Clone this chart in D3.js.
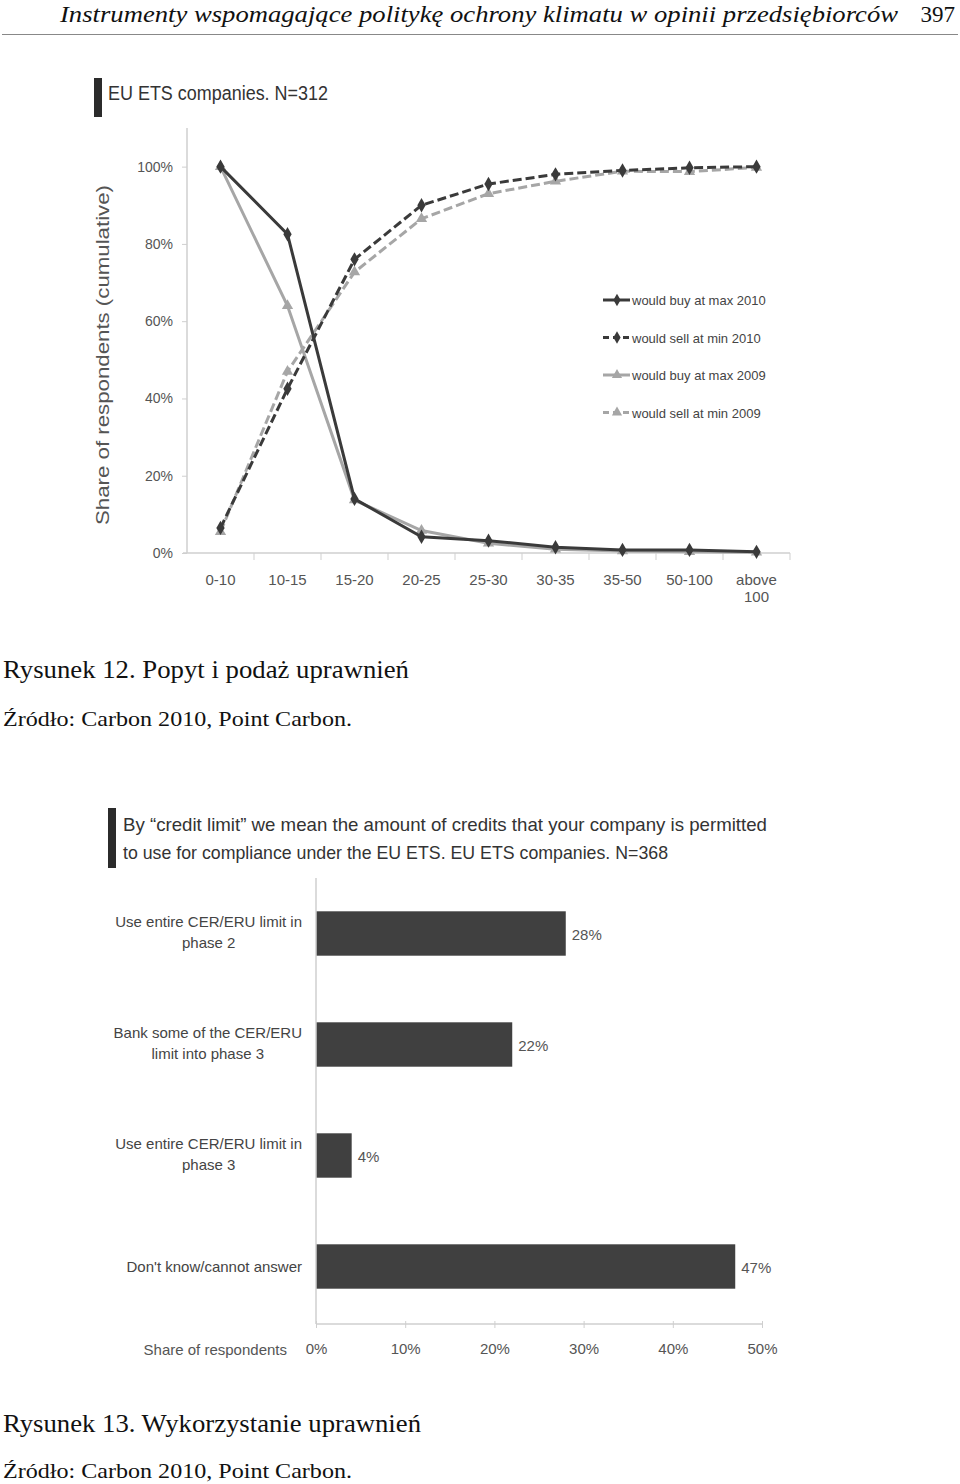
<!DOCTYPE html>
<html><head><meta charset="utf-8">
<script src="https://cdn.jsdelivr.net/npm/d3@7"></script>
<style>body{margin:0;background:#fff}svg{display:block}</style>
</head><body><svg id="c" width="960" height="1484"></svg>
<script>
// ---------- DATA ----------
const categories = ["0-10","10-15","15-20","20-25","25-30","30-35","35-50","50-100","above 100"];
const buyMax2010  = [100, 82.5, 14, 4.2, 3.2, 1.5, 0.8, 0.8, 0.3];
const sellMin2010 = [6.5, 42.5, 76, 90, 95.5, 98, 99, 99.7, 100];
const buyMax2009  = [100, 64, 13.7, 5.8, 2.5, 1, 0.5, 0.3, 0.2];
const sellMin2009 = [5.5, 47, 72.7, 86.5, 93, 96.2, 98.8, 98.7, 99.8];
const yTicks1 = [0, 20, 40, 60, 80, 100];
const seriesNames = ["would buy at max 2010","would sell at min 2010","would buy at max 2009","would sell at min 2009"];

const barCategories = [["Use entire CER/ERU limit in","phase 2"],["Bank some of the CER/ERU","limit into phase 3"],["Use entire CER/ERU limit in","phase 3"],["Don't know/cannot answer"]];
const barValues = [28, 22, 4, 47];
const xTicks2 = [0, 10, 20, 30, 40, 50];

// ---------- SETUP ----------
const svg = d3.select("#c");
svg.append("rect").attr("width",960).attr("height",1484).attr("fill","#fff");
const SANS = "'Liberation Sans', Arial, sans-serif";
// pick an installed Times-like serif
function hasFont(f){
  const c = document.createElement("canvas").getContext("2d");
  const s = "Rysunek 12. Popyt i podaż uprawnień WMmwil";
  c.font = "40px monospace"; const a = c.measureText(s).width;
  c.font = `40px '${f}', monospace`; const b = c.measureText(s).width;
  return Math.abs(a-b) > 0.5;
}
const serifName = ["Liberation Serif","Times New Roman","Tinos","Nimbus Roman","Times"].find(hasFont);
const SERIF = serifName ? `'${serifName}', serif` : "serif";
const AXIS = "#cfcfcf", TXT = "#555";

// header
svg.append("text").attr("x",60).attr("y",22).attr("font-family",SERIF).attr("font-style","italic")
  .attr("font-size",23).attr("textLength",838).attr("lengthAdjust","spacingAndGlyphs").attr("fill","#111")
  .text("Instrumenty wspomagające politykę ochrony klimatu w opinii przedsiębiorców");
svg.append("text").attr("x",955).attr("y",22).attr("text-anchor","end").attr("font-family",SERIF)
  .attr("font-size",23).attr("fill","#111").text("397");
svg.append("line").attr("x1",2).attr("x2",958).attr("y1",34.5).attr("y2",34.5).attr("stroke","#888").attr("stroke-width",1.2);

// ---------- CHART 1 ----------
svg.append("rect").attr("x",94).attr("y",78).attr("width",8).attr("height",39).attr("fill","#2b2b2b");
svg.append("text").attr("x",108).attr("y",100).attr("font-family",SANS).attr("font-size",20)
  .attr("textLength",220).attr("lengthAdjust","spacingAndGlyphs").attr("fill","#333").text("EU ETS companies. N=312");

const x1 = d3.scaleBand().domain(categories).range([187, 790]);
const y1 = d3.scaleLinear().domain([0, 110]).range([553, 128]);
const cx = c => x1(c) + x1.bandwidth()/2;

const gy = svg.append("g").attr("transform","translate(187,0)")
  .call(d3.axisLeft(y1).tickValues(yTicks1).tickSize(5).tickPadding(9).tickFormat(d => d + "%"));
gy.select(".domain").attr("stroke",AXIS).attr("stroke-width",1.5).attr("d","M0,128V553");
gy.selectAll(".tick line").attr("stroke",AXIS);
gy.selectAll(".tick text").attr("font-family",SANS).attr("font-size",14).attr("fill",TXT);

const gx = svg.append("g").attr("transform","translate(0,553)")
  .call(d3.axisBottom(x1).tickSize(0).tickPadding(21));
gx.select(".domain").attr("stroke",AXIS).attr("stroke-width",1.5).attr("d","M183,0H790");
gx.selectAll(".tick text").attr("font-family",SANS).attr("font-size",15).attr("fill",TXT)
  .each(function(d){
    const parts = d.split(" ");
    if (parts.length > 1) {
      const t = d3.select(this); t.text(null);
      parts.forEach((p,i) => t.append("tspan").attr("x",0).attr("dy", i===0 ? "0.71em" : "1.15em").text(p));
    }
  });
svg.append("g").selectAll("line").data(categories).join("line")
  .attr("x1", c => x1(c) + x1.bandwidth()).attr("x2", c => x1(c) + x1.bandwidth())
  .attr("y1",553).attr("y2",560).attr("stroke",AXIS);

// y title
svg.append("text").attr("transform","translate(109,355) rotate(-90)").attr("text-anchor","middle")
  .attr("font-family",SANS).attr("font-size",19).attr("textLength",340).attr("lengthAdjust","spacingAndGlyphs")
  .attr("fill",TXT).text("Share of respondents (cumulative)");

const DARK = "#3a3a3a", LIGHT = "#a6a6a6";
const series = [
  {name:seriesNames[2], values:buyMax2009,  color:LIGHT, dash:null,  sym:d3.symbolTriangle},
  {name:seriesNames[3], values:sellMin2009, color:LIGHT, dash:"9,4", sym:d3.symbolTriangle},
  {name:seriesNames[0], values:buyMax2010,  color:DARK,  dash:null,  sym:d3.symbolDiamond},
  {name:seriesNames[1], values:sellMin2010, color:DARK,  dash:"9,4", sym:d3.symbolDiamond}
];
const line = d3.line().x((d,i) => cx(categories[i])).y(d => y1(d));
series.forEach(s => {
  svg.append("path").attr("d", line(s.values)).attr("fill","none").attr("stroke",s.color)
    .attr("stroke-width",3).attr("stroke-dasharray",s.dash);
  svg.append("g").selectAll("path").data(s.values).join("path")
    .attr("transform",(d,i) => `translate(${cx(categories[i])},${y1(d)})`)
    .attr("d", d3.symbol().type(s.sym).size(s.sym === d3.symbolDiamond ? 60 : 55)).attr("fill",s.color);
});

// legend
const legOrder = [series[2], series[3], series[0], series[1]];
const leg = svg.append("g");
legOrder.forEach((s,i) => {
  const yy = 300 + i*37.5;
  leg.append("line").attr("x1",603).attr("x2",630).attr("y1",yy).attr("y2",yy).attr("stroke",s.color)
    .attr("stroke-width",3).attr("stroke-dasharray", s.dash ? "6,4" : null);
  leg.append("path").attr("transform",`translate(617,${yy})`)
    .attr("d", d3.symbol().type(s.sym).size(45)).attr("fill",s.color);
  leg.append("text").attr("x",632).attr("y",yy+5).attr("font-family",SANS).attr("font-size",13)
    .attr("fill","#444").text(s.name);
});

// caption 12
svg.append("text").attr("x",3).attr("y",678).attr("font-family",SERIF).attr("font-size",25)
  .attr("textLength",406).attr("lengthAdjust","spacingAndGlyphs").attr("fill","#111").text("Rysunek 12. Popyt i podaż uprawnień");
svg.append("text").attr("x",3).attr("y",726).attr("font-family",SERIF).attr("font-size",21)
  .attr("textLength",349).attr("lengthAdjust","spacingAndGlyphs").attr("fill","#111").text("Źródło: Carbon 2010, Point Carbon.");

// ---------- CHART 2 ----------
svg.append("rect").attr("x",108).attr("y",808).attr("width",8).attr("height",60).attr("fill","#2b2b2b");
svg.append("text").attr("x",123).attr("y",831).attr("font-family",SANS).attr("font-size",19)
  .attr("textLength",644).attr("lengthAdjust","spacingAndGlyphs").attr("fill","#333")
  .text("By “credit limit” we mean the amount of credits that your company is permitted");
svg.append("text").attr("x",123).attr("y",859).attr("font-family",SANS).attr("font-size",19)
  .attr("textLength",545).attr("lengthAdjust","spacingAndGlyphs").attr("fill","#333")
  .text("to use for compliance under the EU ETS. EU ETS companies. N=368");

const idx = barValues.map((d,i) => i);
const y2 = d3.scaleBand().domain(idx).range([878, 1322]).paddingInner(0.6).paddingOuter(0.3);
const x2 = d3.scaleLinear().domain([0, 50]).range([316, 762]);

svg.append("g").selectAll("rect").data(barValues).join("rect")
  .attr("x", x2(0)).attr("y",(d,i) => y2(i)).attr("width", d => x2(d) - x2(0))
  .attr("height", y2.bandwidth()).attr("fill","#404040");
svg.append("g").selectAll("text").data(barValues).join("text")
  .attr("x", d => x2(d) + 6).attr("y",(d,i) => y2(i) + y2.bandwidth()/2 + 6)
  .attr("font-family",SANS).attr("font-size",15).attr("fill",TXT).text(d => d + "%");

// category labels (block centred, right edge at 302)
barCategories.forEach((lines,i) => {
  const g = svg.append("g");
  const cy = y2(i) + y2.bandwidth()/2;
  const lh = 21;
  const t = g.append("text").attr("font-family",SANS).attr("font-size",15).attr("fill","#444").attr("text-anchor","middle");
  lines.forEach((l,j) => t.append("tspan").attr("x",0)
    .attr("y", cy + 5 + (j - (lines.length-1)/2) * lh - (lines.length>1 ? 1 : 0)).text(l));
  const w = d3.max(t.selectAll("tspan").nodes(), n => n.getComputedTextLength());
  g.attr("transform",`translate(${302 - w/2},0)`);
});

const gx2 = svg.append("g").attr("transform","translate(0,1324)")
  .call(d3.axisBottom(x2).tickValues(xTicks2).tickSize(4).tickPadding(15).tickFormat(d => d + "%"));
gx2.select(".domain").attr("stroke",AXIS).attr("stroke-width",1.5).attr("d","M316,0H763");
gx2.selectAll(".tick line").attr("stroke",AXIS).attr("y1",-3);
gx2.selectAll(".tick text").attr("font-family",SANS).attr("font-size",15).attr("fill",TXT);
svg.append("line").attr("x1",316).attr("x2",316).attr("y1",878).attr("y2",1324).attr("stroke",AXIS).attr("stroke-width",1.5);
svg.append("text").attr("x",287).attr("y",1355).attr("text-anchor","end").attr("font-family",SANS)
  .attr("font-size",15).attr("fill",TXT).text("Share of respondents");

// caption 13
svg.append("text").attr("x",3).attr("y",1432).attr("font-family",SERIF).attr("font-size",25)
  .attr("textLength",418).attr("lengthAdjust","spacingAndGlyphs").attr("fill","#111").text("Rysunek 13. Wykorzystanie uprawnień");
svg.append("text").attr("x",3).attr("y",1478).attr("font-family",SERIF).attr("font-size",21)
  .attr("textLength",349).attr("lengthAdjust","spacingAndGlyphs").attr("fill","#111").text("Źródło: Carbon 2010, Point Carbon.");
</script></body></html>
